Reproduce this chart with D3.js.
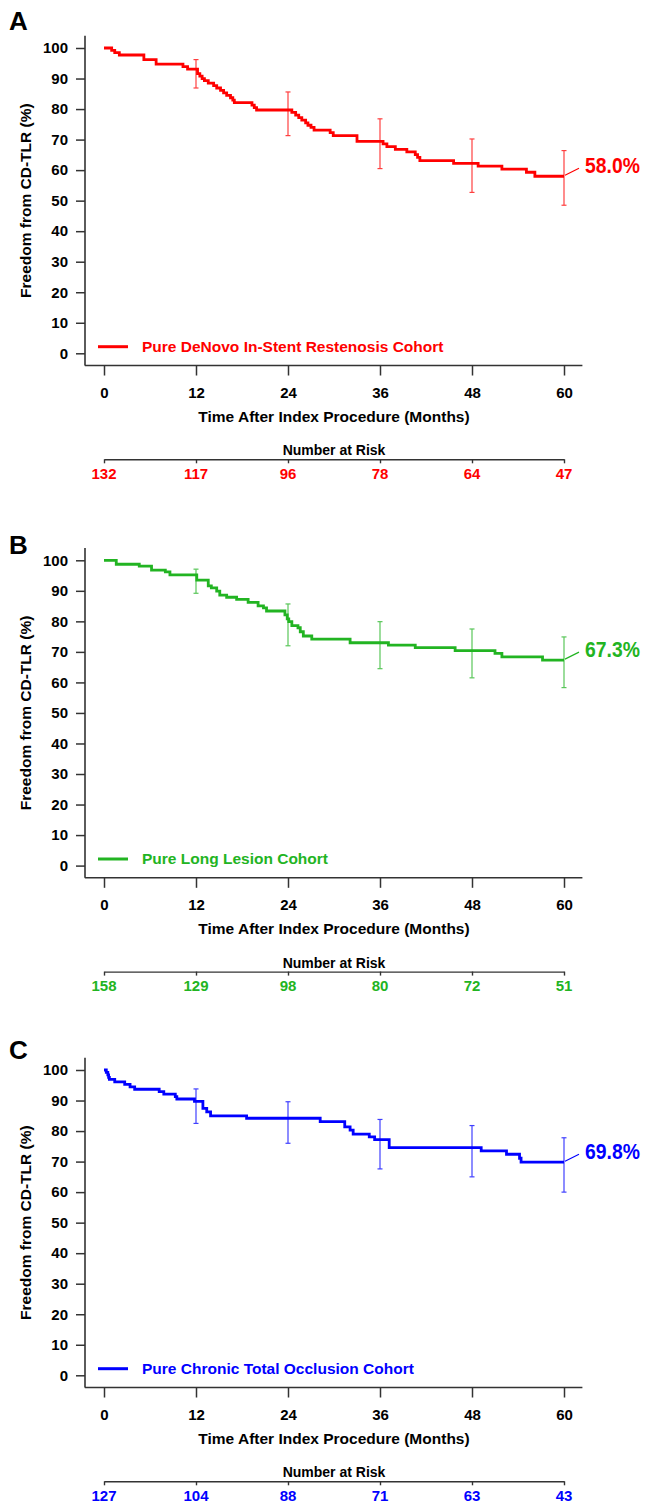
<!DOCTYPE html>
<html><head><meta charset="utf-8">
<script src="https://cdn.jsdelivr.net/npm/d3@7"></script>
<style>
body{margin:0;background:#fff;}
text{font-family:"Liberation Sans",Arial,Helvetica,sans-serif;font-weight:bold;}
</style>
</head><body>
<svg id="chart" width="652" height="1505"></svg>
<script>
// ---------- data ----------
const xTicks = [0, 12, 24, 36, 48, 60];
const yTicks = [0, 10, 20, 30, 40, 50, 60, 70, 80, 90, 100];
const panelLetters = ["A", "B", "C"];
const cohortNames = ["Pure DeNovo In-Stent Restenosis Cohort", "Pure Long Lesion Cohort", "Pure Chronic Total Occlusion Cohort"];
const finalLabels = ["58.0%", "67.3%", "69.8%"];
const xTitle = "Time After Index Procedure (Months)";
const yTitle = "Freedom from CD-TLR (%)";
const riskTitle = "Number at Risk";

const timesA = [0, 1.0, 1.4, 2.0, 5.2, 6.8, 10.3, 10.9, 12.2, 12.5, 12.8, 13.1, 13.6, 14.3, 14.7, 15.2, 15.6, 16.0, 16.5, 16.8, 17.0, 19.3, 19.6, 19.9, 24.5, 25.0, 25.4, 25.8, 26.3, 26.6, 27.0, 27.4, 29.5, 29.9, 33.0, 36.4, 36.9, 38.0, 39.5, 40.6, 40.9, 41.2, 45.6, 48.8, 51.9, 55.1, 56.2];
const survA  = [100, 99.2, 98.5, 97.7, 96.2, 94.7, 93.9, 93.1, 91.6, 90.8, 90.0, 89.3, 88.5, 87.7, 86.9, 86.1, 85.3, 84.5, 83.7, 82.9, 82.1, 81.3, 80.5, 79.7, 78.9, 78.0, 77.2, 76.4, 75.5, 74.7, 74.0, 73.1, 72.3, 71.3, 69.4, 68.6, 67.7, 66.8, 66.0, 65.1, 64.2, 63.1, 62.2, 61.3, 60.3, 59.3, 58.0];
const errLowA  = [86.9, 71.3, 60.5, 52.7, 48.5];
const errHighA = [96.2, 85.6, 76.8, 70.2, 66.4];
const riskA = [132, 117, 96, 78, 64, 47];

const timesB = [0, 1.6, 4.6, 6.2, 8.0, 8.6, 12.1, 13.6, 14.0, 14.7, 15.1, 16.0, 17.3, 18.8, 20.1, 20.8, 21.2, 23.6, 23.9, 24.1, 24.5, 25.3, 25.6, 26.0, 27.1, 32.1, 37.1, 40.6, 45.8, 51.0, 51.9, 57.2];
const survB  = [100, 98.7, 98.1, 96.8, 96.2, 95.2, 93.5, 91.6, 91.0, 89.9, 88.6, 87.9, 87.2, 86.2, 85.1, 84.4, 83.4, 82.1, 80.8, 79.9, 78.6, 77.9, 76.6, 75.2, 74.2, 73.0, 72.2, 71.4, 70.4, 69.5, 68.4, 67.3];
const errLowB  = [89.2, 72.0, 64.5, 61.5, 58.3];
const errHighB = [97.1, 85.7, 79.9, 77.5, 74.9];
const riskB = [158, 129, 98, 80, 72, 51];

const timesC = [0, 0.3, 0.5, 0.6, 0.7, 1.4, 2.7, 3.4, 4.0, 7.2, 7.8, 9.3, 9.5, 11.8, 12.9, 13.4, 13.9, 18.6, 28.2, 31.4, 32.1, 32.5, 34.6, 35.3, 37.2, 49.2, 52.5, 54.2, 54.4];
const survC  = [100, 99.2, 98.4, 97.6, 96.9, 96.1, 95.3, 94.5, 93.7, 92.9, 92.1, 91.3, 90.5, 89.7, 87.4, 86.3, 85.0, 84.2, 83.1, 81.4, 80.3, 79.0, 78.1, 77.2, 74.6, 73.5, 72.4, 71.1, 69.8];
const errLowC  = [82.5, 76.0, 67.6, 65.0, 60.0];
const errHighC = [93.8, 89.6, 83.8, 81.8, 77.8];
const riskC = [127, 104, 88, 71, 63, 43];

const series = [
  {times: timesA, surv: survA, lo: errLowA, hi: errHighA, risk: riskA},
  {times: timesB, surv: survB, lo: errLowB, hi: errHighB, risk: riskB},
  {times: timesC, surv: survC, lo: errLowC, hi: errHighC, risk: riskC}
];

// ---------- layout / style ----------
const colors = ["#ff0000", "#22b422", "#0000ff"];
const layout = [
  {y0: 353.3, y100: 48,    letterY: 29.5},
  {y0: 865.6, y100: 560.3, letterY: 554},
  {y0: 1375.3, y100: 1070, letterY: 1058.5}
];
const axisColor = "#333";

const svg = d3.select("#chart");
const x = d3.scaleLinear().domain([0, 60]).range([104, 564]);

series.forEach((s, i) => {
  const L = layout[i];
  const col = colors[i];
  const y = d3.scaleLinear().domain([0, 100]).range([L.y0, L.y100]);
  const g = svg.append("g");

  // panel letter
  g.append("text").attr("x", 9).attr("y", L.letterY).attr("font-size", 26).attr("fill", "#000").text(panelLetters[i]);

  // y axis
  const yAx = g.append("g").attr("transform", "translate(85,0)")
    .call(d3.axisLeft(y).tickValues(yTicks).tickSize(9).tickPadding(8));
  yAx.select(".domain").remove();
  yAx.selectAll(".tick line").attr("stroke", axisColor).attr("stroke-width", 1.5);
  yAx.selectAll(".tick text").attr("font-size", 15).attr("fill", "#000")
     .attr("font-family", '"Liberation Sans",Arial,sans-serif').attr("font-weight", "bold");
  g.append("line").attr("x1", 85).attr("x2", 85).attr("y1", y(104)).attr("y2", y(-4))
    .attr("stroke", axisColor).attr("stroke-width", 1.6);

  // x axis
  const axY = y(-4);
  const xAx = g.append("g").attr("transform", `translate(0,${axY})`)
    .call(d3.axisBottom(x).tickValues(xTicks).tickSize(10).tickPadding(12));
  xAx.select(".domain").remove();
  xAx.selectAll(".tick line").attr("stroke", axisColor).attr("stroke-width", 1.5);
  xAx.selectAll(".tick text").attr("font-size", 15).attr("fill", "#000")
     .attr("font-family", '"Liberation Sans",Arial,sans-serif').attr("font-weight", "bold");
  g.append("line").attr("x1", x(-2.5)).attr("x2", x(62.4)).attr("y1", axY).attr("y2", axY)
    .attr("stroke", axisColor).attr("stroke-width", 1.6);

  // axis titles
  g.append("text").attr("x", x(30)).attr("y", L.y0 + 68.5).attr("text-anchor", "middle")
    .attr("font-size", 15.5).attr("fill", "#000").text(xTitle);
  g.append("text").attr("transform", `translate(31,${(L.y0 + L.y100) / 2}) rotate(-90)`)
    .attr("text-anchor", "middle").attr("font-size", 15.5).attr("fill", "#000").text(yTitle);

  // KM curve
  const pts = s.times.map((t, k) => [t, s.surv[k]]);
  pts.push([60, s.surv[s.surv.length - 1]]);
  const line = d3.line().x(d => x(d[0])).y(d => y(d[1])).curve(d3.curveStepAfter);
  g.append("path").datum(pts).attr("d", line).attr("fill", "none")
    .attr("stroke", col).attr("stroke-width", 2.8);

  // error bars
  const eb = g.append("g").attr("stroke", col).attr("stroke-width", 1.2).attr("opacity", 0.75);
  xTicks.slice(1).forEach((t, k) => {
    eb.append("line").attr("x1", x(t)).attr("x2", x(t)).attr("y1", y(s.lo[k])).attr("y2", y(s.hi[k]));
    eb.append("line").attr("x1", x(t) - 2.5).attr("x2", x(t) + 2.5).attr("y1", y(s.lo[k])).attr("y2", y(s.lo[k]));
    eb.append("line").attr("x1", x(t) - 2.5).attr("x2", x(t) + 2.5).attr("y1", y(s.hi[k])).attr("y2", y(s.hi[k]));
  });

  // final label
  const fv = s.surv[s.surv.length - 1];
  g.append("line").attr("x1", x(60) + 1).attr("x2", x(60) + 15).attr("y1", y(fv) - 1).attr("y2", y(fv) - 8)
    .attr("stroke", col).attr("stroke-width", 1.2);
  g.append("text").attr("transform", `translate(585,${y(fv) - 3}) scale(0.86,1)`)
    .attr("font-size", 22.5).attr("fill", col).text(finalLabels[i]);

  // legend
  g.append("line").attr("x1", 98).attr("x2", 128).attr("y1", L.y0 - 6.6).attr("y2", L.y0 - 6.6)
    .attr("stroke", col).attr("stroke-width", 3);
  g.append("text").attr("x", 142).attr("y", L.y0 - 1.3).attr("font-size", 15.5).attr("fill", col).text(cohortNames[i]);

  // number at risk
  g.append("text").attr("x", x(30)).attr("y", L.y0 + 102).attr("text-anchor", "middle")
    .attr("font-size", 14).attr("fill", "#000").text(riskTitle);
  const rY = L.y0 + 106;
  const rAx = g.append("g").attr("transform", `translate(0,${rY})`)
    .call(d3.axisBottom(x).tickValues(xTicks).tickSize(4).tickSizeOuter(0).tickFormat(""));
  rAx.select(".domain").attr("stroke", axisColor).attr("stroke-width", 1.4);
  rAx.selectAll(".tick line").attr("stroke", axisColor).attr("stroke-width", 1.4);
  g.append("g").selectAll("text").data(s.risk).join("text")
    .attr("x", (d, k) => x(xTicks[k])).attr("y", rY + 19.5).attr("text-anchor", "middle")
    .attr("font-size", 15).attr("fill", col).text(d => d);
});
</script>
</body></html>
